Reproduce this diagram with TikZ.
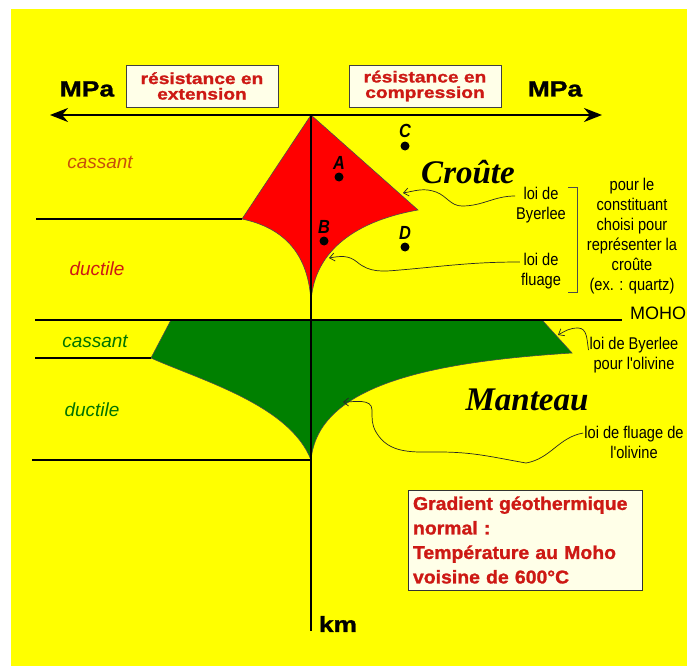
\documentclass[tikz,border=0pt]{standalone}
\usepackage{fontspec}
\setmainfont{Liberation Sans}
\newfontfamily\narrowfont[FakeStretch=0.86]{Liberation Sans}
\newfontfamily\blackfont[FakeStretch=1.2,FakeBold=1.2]{Liberation Sans Bold}
\newfontfamily\heavyfont[FakeStretch=1.05,FakeBold=1.2]{Liberation Sans Bold}
\newfontfamily\titlefont{Liberation Serif}
\usetikzlibrary{
	arrows.meta,
	positioning,
	calc
}

\definecolor{jaune}{RGB}{255,255,0}
\definecolor{rouge}{RGB}{255,0,0}
\definecolor{vert}{RGB}{0,128,0}
\definecolor{texterouge}{RGB}{205,25,20}
\definecolor{orangebrun}{RGB}{200,80,10}
\definecolor{vertfonce}{RGB}{0,115,0}
\definecolor{creme}{RGB}{255,255,232}

\begin{document}
\begin{tikzpicture}[
	x=1pt, y=-1pt,
	mpa/.style={font=\blackfont\fontsize{22}{24}\selectfont, inner sep=0pt},
	resbox/.style={
		rectangle,
		draw=black!75,
		fill=creme,
		line width=0.8pt,
		minimum width=152pt,
		minimum height=42pt,
		align=center,
		inner sep=1pt,
		text=texterouge,
		font=\blackfont\fontsize{16}{15.5}\selectfont
	},
	zone/.style={font=\itshape\fontsize{19}{20}\selectfont, inner sep=0pt},
	pt/.style={circle, fill=black, minimum size=9pt, inner sep=0pt},
	ptlabel/.style={font=\narrowfont\bfseries\itshape\fontsize{19}{20}\selectfont, inner sep=0pt},
	titre/.style={font=\titlefont\bfseries\itshape\fontsize{33}{35}\selectfont, inner sep=0pt},
	loi/.style={font=\narrowfont\fontsize{17}{20}\selectfont, align=center, inner sep=1pt},
	gradbox/.style={
		rectangle,
		draw=black!80,
		fill=creme,
		line width=0.9pt,
		minimum width=234pt,
		minimum height=100pt,
		text width=224pt,
		align=left,
		text=texterouge,
		font=\heavyfont\fontsize{18.5}{24.5}\selectfont
	},
	limite/.style={line width=2.5pt, draw=black},
	contour/.style={draw=black!70, line width=0.6pt},
	leader/.style={-{Straight Barb[length=5pt,width=8pt]}, line width=0.7pt, draw=black!85}
]

% fond
\useasboundingbox (0,0) rectangle (687,666);
\fill[white] (0,0) rectangle (687,666);
\fill[jaune] (11,9) rectangle (687,666);

% axes
\coordinate (o) at (311,115);
\coordinate (xl) at (50,115);
\coordinate (xr) at (602,115);
\coordinate (ybas) at (311,631);

% croute (enveloppe rouge)
\coordinate (cg) at (242,219);
\coordinate (cd) at (418,210);
\coordinate (cpointe) at (311,303);
\fill[rouge] (o) -- (cg) .. controls (285,228) and (309,255) .. (cpointe)
	.. controls (313,255) and (350,222) .. (cd) -- cycle;
\draw[contour] (o) -- (cg) .. controls (285,228) and (309,255) .. (cpointe)
	.. controls (313,255) and (350,222) .. (cd) -- cycle;

% manteau (enveloppe verte)
\coordinate (mhg) at (171,320);
\coordinate (mhd) at (542,320);
\coordinate (md) at (572,353);
\coordinate (mg) at (151,358);
\coordinate (mpointe) at (311,460);
\fill[vert] (mhg) -- (mhd) -- (md) .. controls (430,362) and (318,385) .. (mpointe)
	.. controls (290,405) and (200,380) .. (mg) -- cycle;
\draw[contour] (mhg) -- (mhd) -- (md) .. controls (430,362) and (318,385) .. (mpointe)
	.. controls (290,405) and (200,380) .. (mg) -- cycle;

% limites
\draw[limite] (36,219) -- (cg);
\draw[limite] (35,320) -- (622,320);
\draw[limite] (35,358) -- (mg);
\draw[limite] (32,460) -- (mpointe);

\draw[line width=2.5pt, {Stealth[length=18pt,width=14pt]}-{Stealth[length=18pt,width=14pt]}] (xl) -- (xr);
\draw[line width=2.5pt] (o) -- (ybas);

% etiquettes des axes
\node[mpa] (mpag) at (87,89) {MPa};
\node[mpa] (mpad) at (555,89) {MPa};
\node[mpa] (km) at (338,624) {km};
\node[resbox] (ext) at (202,86) {résistance en\\extension};
\node[resbox] (comp) at (425,86) {résistance en\\compression};

% zones
\node[zone, text=orangebrun] (cas1) at (100,162) {cassant};
\node[zone, text=texterouge] (duc1) at (97,269) {ductile};
\node[zone, text=vertfonce] (cas2) at (95,341) {cassant};
\node[zone, text=vertfonce] (duc2) at (92,410) {ductile};

% points
\node[pt] (pA) at (339,177) {};
\node[pt] (pB) at (324,241) {};
\node[pt] (pC) at (405,146) {};
\node[pt] (pD) at (405,247) {};
\node[ptlabel, above=3pt of pA] (lA) {A};
\node[ptlabel, above=3pt of pB] (lB) {B};
\node[ptlabel, above=3pt of pC] (lC) {C};
\node[ptlabel, above=3pt of pD] (lD) {D};

\node[titre] (croute) at (468,172) {Croûte};
\node[titre] (manteau) at (527,400) {Manteau};

% lois
\node[loi] (byerc) at (541,205) {loi de\\Byerlee};
\node[loi] (fluc) at (541,271) {loi de\\fluage};
\node[loi] (quartz) at (632,236) {pour le\\constituant\\choisi pour\\représenter la\\croûte\\(ex. : quartz)};
\node[loi, font=\fontsize{18}{20}\selectfont] (moho) at (658,313) {MOHO};
\node[loi] (byero) at (634,355) {loi de Byerlee\\pour l'olivine};
\node[loi] (fluo) at (634,442) {loi de fluage de\\l'olivine};
\draw[black!70, line width=0.7pt] (568,187) -- (577,187) -- (577,292) -- (568,292);

\coordinate (cbyer) at (403,193);
\coordinate (cflu) at (329,258);
\coordinate (obyer) at (558,335);
\coordinate (oflu) at (343,402);

\draw[leader] ([yshift=9pt]byerc.west) to[out=180,in=0] (462,206)
	to[out=180,in=-20] (436,192) to[out=160,in=10] (cbyer);
\draw[leader] ([yshift=9pt]fluc.west) to[out=180,in=5] (400,270)
	to[out=185,in=-40] (357,262) to[out=140,in=10] (cflu);
\draw[leader] ([yshift=5pt]byero.west) to[out=100,in=0] (578,328)
	to[out=180,in=30] (obyer);
\draw[leader] ([yshift=9pt]fluo.west) to[out=190,in=10] (526,463)
	to[out=170,in=0] (439,452) to[out=180,in=-60] (376,432)
	to[out=120,in=-90] (372,410) to[out=90,in=0] (oflu);

% gradient
\node[gradbox] (grad) at (525,540) {Gradient géothermique\\normal :\\Température au Moho\\voisine de 600°C};
\end{tikzpicture}
\end{document}
